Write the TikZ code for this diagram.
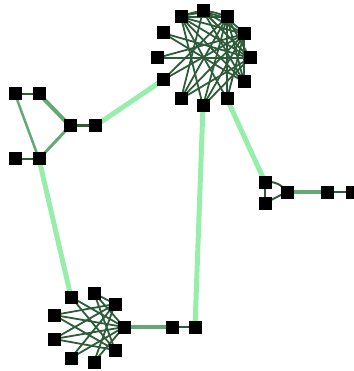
\documentclass[tikz,border=0pt]{standalone}
\begin{document}
\begin{tikzpicture}[x=1pt,y=-1pt,
  nd/.style={fill=black,minimum size=13pt,inner sep=0pt,draw=none,rectangle},
  lightedge/.style={draw=lgreen,line width=5pt},
  midedge/.style={draw=mgreen,line width=4pt},
  darkedge/.style={draw=dgreen,line width=2pt},
  thindark/.style={draw=dgreen,line width=1.8pt}]
\definecolor{lgreen}{RGB}{150,238,170}
\definecolor{mgreen}{RGB}{100,168,115}
\definecolor{dgreen}{RGB}{46,92,58}
\useasboundingbox (0,0) rectangle (353,371);
% top cluster
\coordinate (t0) at (203,11);
\coordinate (t1) at (227,17);
\coordinate (t2) at (244,34);
\coordinate (t3) at (250,58);
\coordinate (t4) at (244,82);
\coordinate (t5) at (227,99);
\coordinate (t6) at (203,106);
\coordinate (t7) at (181,99);
\coordinate (t8) at (163,80);
\coordinate (t9) at (157,58);
\coordinate (t10) at (163,33);
\coordinate (t11) at (181,17);
% left cluster
\coordinate (l1) at (15,94);
\coordinate (l2) at (39,94);
\coordinate (l3) at (70,126);
\coordinate (l4) at (95,126);
\coordinate (l5) at (15,159);
\coordinate (l6) at (39,159);
% right cluster
\coordinate (r1) at (265,182);
\coordinate (r2) at (265,203);
\coordinate (r3) at (287,192);
\coordinate (r4) at (327,192);
\coordinate (r5) at (352,192);
% bottom cluster
\coordinate (ba) at (71,297);
\coordinate (bb) at (94,293);
\coordinate (bc) at (115,304);
\coordinate (bd) at (54,315);
\coordinate (be) at (124,327);
\coordinate (bf) at (54,339);
\coordinate (bg) at (115,350);
\coordinate (bh) at (71,358);
\coordinate (bi) at (94,362);
\coordinate (bj) at (172,327);
\coordinate (bk) at (195,327);
% light long edges
\draw[lightedge] (l4) -- (t8);
\draw[lightedge] (l6) -- (ba);
\draw[lightedge] (t6) -- (bk);
\draw[lightedge] (t5) -- (r1);
% medium edges
\draw[midedge] (l2) -- (l3);
\draw[mgreen,line width=2.5pt] (l1) -- (l6);
\draw[mgreen,line width=3pt] (l6) -- (l3);
\draw[midedge] (r3) -- (r4);
\draw[midedge] (be) -- (bj);
% dark edges
\draw[darkedge] (l1) -- (l2);
\draw[darkedge] (l5) -- (l6);
\draw[darkedge,line width=3pt] (l3) -- (l4);
\draw[darkedge] (r1) -- (r2);
\draw[darkedge] (r2) -- (r3);
\draw[darkedge] (r1) to[bend left=30] (r3);
\draw[darkedge] (r4) -- (r5);
\draw[darkedge] (bj) -- (bk);
% top cluster edges
\foreach \a/\b in {t0/t2,t0/t3,t0/t4,t11/t1,t11/t3,t11/t4,t11/t5,t10/t3,t10/t4,
  t9/t3,t9/t2,t8/t2,t8/t1,t7/t0,t7/t1,t7/t2,t7/t3,t6/t11,t6/t1,t6/t2,t6/t3,
  t5/t2,t5/t1,t4/t1,t4/t2,t1/t3,t2/t11}{
  \draw[thindark] (\a) -- (\b);
}
\draw[thindark] (t11) to[bend left=25] (t1);
\draw[thindark] (t11) to[bend left=35] (t2);
% bottom cluster edges
\foreach \a/\b in {ba/be,ba/bg,bb/be,bb/bg,bb/bc,bd/bc,bd/be,bd/bg,bf/bc,bf/be,bf/bg,
  bh/bc,bh/be,bi/bc,bi/be}{
  \draw[thindark] (\a) -- (\b);
}
% nodes
\foreach \n in {t0,t1,t2,t3,t4,t5,t6,t7,t8,t9,t10,t11,l1,l2,l3,l4,l5,l6,r1,r2,r3,r4,r5,ba,bb,bc,bd,be,bf,bg,bh,bi,bj,bk}{
  \node[nd] (n\n) at (\n) {};
}
\end{tikzpicture}
\end{document}
